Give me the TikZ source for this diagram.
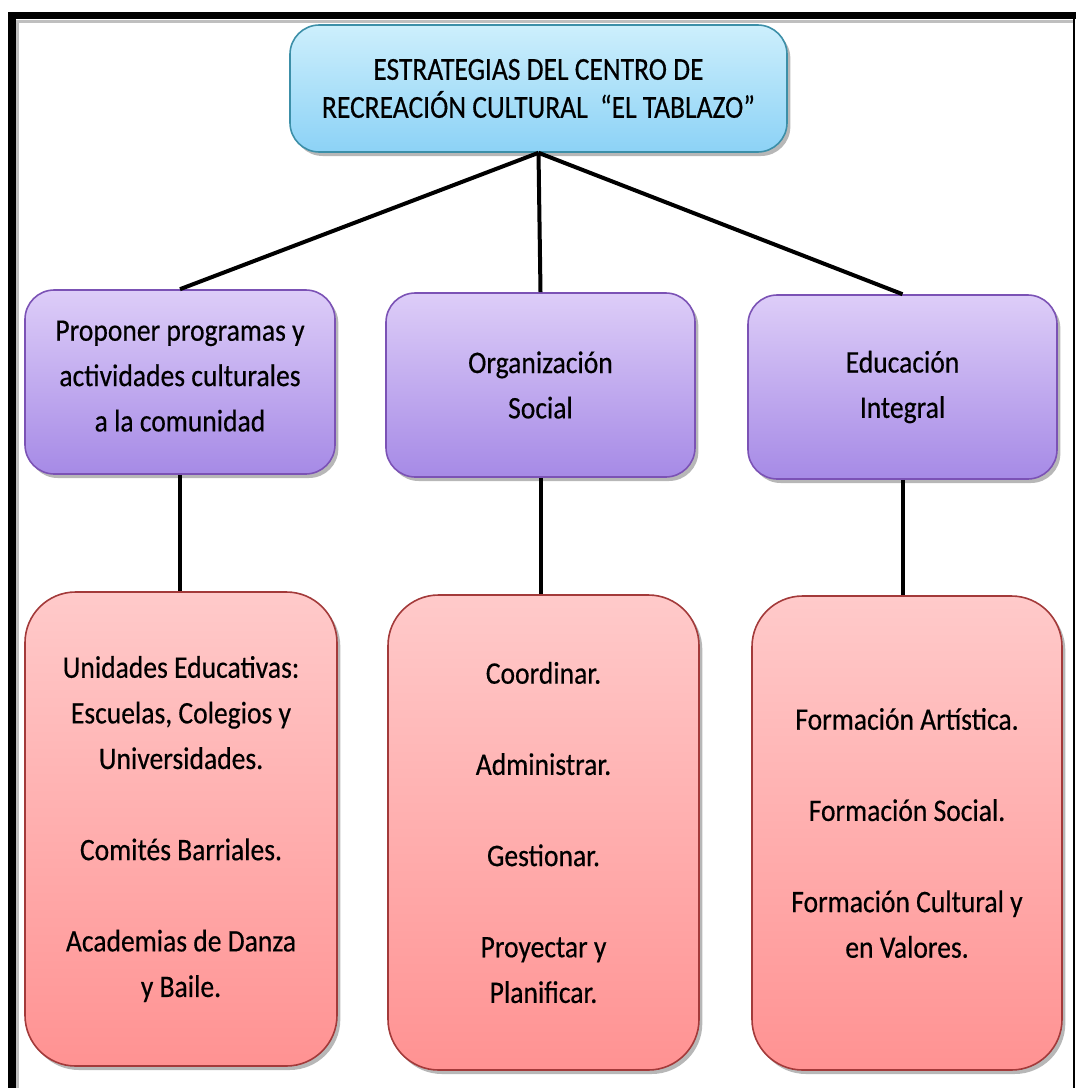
\documentclass[tikz,border=0pt]{standalone}
\usepackage{fontspec}
\setmainfont{Carlito}[FakeStretch=0.88, FakeBold=0.4]
\newfontfamily\topfont{Carlito}[FakeStretch=0.86, FakeBold=0.4]
\usetikzlibrary{shadows}
\definecolor{topA}{HTML}{CDEFFC}
\definecolor{topB}{HTML}{8CD2F6}
\definecolor{topD}{HTML}{3C8FA8}
\definecolor{midA}{HTML}{DDCDF8}
\definecolor{midB}{HTML}{A68AE6}
\definecolor{midD}{HTML}{7B52B5}
\definecolor{botA}{HTML}{FFCACA}
\definecolor{botB}{HTML}{FF9292}
\definecolor{botD}{HTML}{A33A3A}
\tikzset{
  sz/.style n args={2}{minimum width=#1*0.75pt, minimum height=#2*0.75pt},
  basebox/.style={rectangle, align=center, inner sep=0pt, line width=1.2pt,
    drop shadow={shadow xshift=2.5pt, shadow yshift=-3pt, opacity=0.4, fill=black!70}},
  topbox/.style={basebox, rounded corners=22pt, draw=topD, top color=topA, bottom color=topB,
    font=\topfont\fontsize{24}{28.5}\selectfont},
  midbox/.style={basebox, rounded corners=22pt, draw=midD, top color=midA, bottom color=midB,
    font=\fontsize{23.5}{34}\selectfont},
  botbox/.style={basebox, rounded corners=38pt, draw=botD, top color=botA, bottom color=botB,
    font=\fontsize{23.5}{34.2}\selectfont},
  link/.style={draw=black, line width=3pt}
}
\begin{document}
\begin{tikzpicture}[x=0.75pt, y=-0.75pt]
\useasboundingbox (0,0) rectangle (1076,1088);
% frame
\fill[black!25] (16,20) rectangle (1073,23);
\fill[black!25] (16,20) rectangle (19,1088);
\fill[black] (8,12) rectangle (1076,19);
\fill[black] (8,12) rectangle (16,1088);
\fill[black] (1072.5,12) rectangle (1074.5,1088);
% nodes
\node[topbox, sz={497}{127}] (top) at (538.5,88.5) {ESTRATEGIAS DEL CENTRO DE\\RECREACIÓN CULTURAL ~“EL TABLAZO”};
\node[midbox, sz={310}{184}] (m1) at (180,382) {Proponer programas y\\actividades culturales\\a la comunidad\\[-25pt]};
\node[midbox, sz={309}{184}] (m2) at (540.5,385) {Organización\\Social};
\node[midbox, sz={309}{184}] (m3) at (902.5,387) {Educación\\Integral};
\node[botbox, sz={312}{474}] (b1) at (181,829) {Unidades Educativas:\\Escuelas, Colegios y\\Universidades.\\[34.2pt]Comités Barriales.\\[34.2pt]Academias de Danza\\y Baile.};
\node[botbox, sz={311}{475}] (b2) at (543.5,832.5) {Coordinar.\\[34.2pt]Administrar.\\[34.2pt]Gestionar.\\[34.2pt]Proyectar y\\Planificar.};
\node[botbox, sz={310}{474}] (b3) at (907,833) {Formación Artística.\\[34.2pt]Formación Social.\\[34.2pt]Formación Cultural y\\en Valores.};
% connectors
\draw[link] (top.south) -- (m1.north);
\draw[link] (top.south) -- (m2.north);
\draw[link] (top.south) -- (m3.north);
\draw[link] (m1.south) -- (m1.south |- b1.north);
\draw[link] (m2.south) -- (m2.south |- b2.north);
\draw[link] (m3.south) -- (m3.south |- b3.north);
\end{tikzpicture}
\end{document}
